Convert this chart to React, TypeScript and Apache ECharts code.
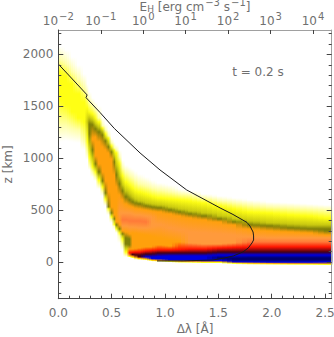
import React, { useEffect, useRef } from "react";
import * as echarts from "echarts";

const FONT = "DejaVu Sans";
const TEXT = "#707070";

const waveTickLabels = [0, 0.5, 1, 1.5, 2, 2.5];
const waveMinorTicks = [0.1, 0.2, 0.3, 0.4, 0.6, 0.7, 0.8, 0.9, 1.1, 1.2, 1.3, 1.4, 1.6, 1.7, 1.8, 1.9, 2.1, 2.2, 2.3, 2.4];
const heightTickLabels = [0, 500, 1000, 1500, 2000];
const heightMinorTicks = [-300, -200, -100, 100, 200, 300, 400, 600, 700, 800, 900, 1100, 1200, 1300, 1400, 1600, 1700, 1800, 1900, 2100, 2200];

// Black curve: x = wavelength offset, y = height (km)
const curveX = [0, 0.14, 0.27, 0.26, 0.39, 0.525, 0.766, 0.953, 1.203, 1.516, 1.637, 1.768, 1.796, 1.825, 1.83, 1.83, 1.815, 1.78, 1.73, 1.64, 1.56, 1.45, 1.17, 0.925];
const curveZ = [1908, 1754, 1610, 1584, 1442, 1287, 1051, 887, 694, 521, 458, 381, 347, 289, 251, 212, 183, 135, 96, 58, 39, 19, 10, 10];

// Colour levels of the intensity map
const levelColors = ["#ffffff", "#ffffa8", "#ffff14", "#c8c810", "#808008", "#ffa00c", "#ff9a3c", "#ff7a38", "#ff1400", "#480014", "#0000e0", "#000070"];

// Column edges of the intensity map, along the wavelength axis
const columnEdges = [0, 0.044, 0.1, 0.157, 0.213, 0.255, 0.283, 0.311, 0.339, 0.367, 0.396, 0.424, 0.452, 0.48, 0.508, 0.536, 0.564, 0.592, 0.62, 0.649, 0.677, 0.705, 0.733, 0.794, 0.85, 0.906, 1, 1.094, 1.187, 1.3, 1.441, 1.581, 1.722, 1.89, 2.078, 2.265, 2.434, 2.562];

// For each column: [height, level, height, level, ...] from top to bottom
const columnProfiles = [
  [2082,0,1947,1,1832,2,1562,2,1321,1,1157,0],
  [2044,0,1909,1,1793,2,1513,2,1321,1,1166,0],
  [1976,0,1832,1,1716,2,1446,2,1292,1,1157,0],
  [1899,0,1754,1,1620,2,1388,2,1272,1,1147,0],
  [1812,0,1677,1,1542,2,1350,2,1176,1,1080,0],
  [1716,0,1600,1,1485,2,1350,3,1157,2,1051,1,983,0],
  [1639,0,1542,1,1446,2,1388,3,1330,4,1234,4,1118,3,1012,2,935,1,887,0],
  [1581,0,1504,1,1427,2,1369,3,1321,4,1195,5,1176,5,1080,4,1003,3,916,2,868,1,819,0],
  [1542,0,1465,1,1388,2,1330,3,1282,4,1205,5,1022,5,945,4,906,3,868,2,819,1,781,0],
  [1504,0,1388,1,1350,2,1301,3,1253,4,1157,5,945,5,868,4,829,3,790,2,742,1,704,0],
  [1388,0,1311,1,1292,2,1263,3,1224,4,1109,5,868,5,781,4,752,3,723,2,675,1,636,0],
  [1330,0,1272,1,1234,2,1195,3,1166,4,1080,5,781,5,665,4,636,3,607,2,569,1,540,0],
  [1272,0,1215,1,1195,2,1147,3,1109,4,1051,5,675,5,530,4,521,3,511,2,482,1,453,0],
  [1195,0,1147,1,1118,2,1089,3,1060,4,993,5,530,5,472,4,453,3,434,2,405,1,376,0],
  [1157,0,1099,1,1080,2,1022,3,964,4,839,5,453,5,415,4,395,3,357,2,347,1,308,0],
  [1128,0,1080,1,1051,2,935,3,839,4,723,5,386,5,357,4,337,3,318,2,299,1,280,0],
  [1080,0,1012,1,954,2,829,3,752,4,646,5,463,6,357,5,318,4,299,3,280,2,251,1,183,0],
  [983,0,906,1,829,2,742,3,684,4,598,5,472,6,405,7,347,6,299,5,270,4,251,3,222,2,164,1,116,0],
  [935,0,858,1,771,2,684,3,627,4,559,5,472,6,405,7,347,6,289,5,231,4,173,4,135,3,96,2,67,1,48,0],
  [916,0,829,1,742,2,655,3,598,4,540,5,472,6,395,7,337,6,270,5,222,4,164,4,125,5,87,8,63,5,53,2,43,0],
  [897,0,810,1,713,2,627,3,578,4,530,5,463,6,395,7,337,6,280,5,125,5,92,8,72,9,53,5,43,2,34,0],
  [877,0,790,1,694,2,607,3,569,4,521,5,453,6,395,7,337,6,280,5,125,5,96,8,67,9,48,5,39,2,29,0],
  [848,0,752,1,675,2,588,3,559,4,511,5,453,6,395,7,328,6,270,5,135,5,96,8,67,9,48,9,36,5,29,2,19,0],
  [819,0,733,1,655,2,569,3,540,4,501,5,443,6,386,7,328,6,260,5,145,5,106,8,77,9,48,10,29,5,22,2,14,0],
  [790,0,713,1,636,2,559,3,530,4,492,5,434,6,337,6,251,5,145,5,111,8,77,9,48,10,34,10,19,5,13,2,7,0],
  [762,0,694,1,617,2,549,3,521,4,482,5,357,6,231,5,164,5,116,8,87,9,53,10,29,10,14,5,10,2,2,0],
  [742,0,675,1,607,2,530,3,501,4,463,5,328,6,212,5,154,5,116,8,87,9,58,10,19,10,10,5,5,2,-5,0],
  [704,0,655,1,598,2,511,3,482,4,443,5,308,6,193,5,120,8,87,9,58,10,19,10,7,5,0,2,-10,0],
  [684,0,646,1,588,2,492,3,463,4,424,5,289,6,183,6,125,8,87,9,58,10,19,10,3,5,-2,2,-10,0],
  [655,0,617,1,569,2,472,3,443,4,405,5,280,6,173,6,125,8,87,9,58,10,14,10,0,5,-5,2,-14,0],
  [636,0,588,1,540,2,443,3,415,4,386,5,270,6,173,6,135,8,96,9,67,10,39,11,14,10,0,5,-5,2,-14,0],
  [617,0,569,1,511,2,415,3,386,4,357,5,260,6,183,6,140,8,96,9,67,10,34,11,19,11,0,10,-10,5,-14,2,-24,0],
  [598,0,549,1,482,2,395,3,357,4,318,5,241,6,193,7,145,8,96,9,67,10,39,11,19,11,0,10,-13,5,-17,2,-27,0],
  [578,0,530,1,472,2,376,3,347,4,299,5,231,6,193,7,145,8,96,9,67,10,39,11,19,11,-3,10,-14,5,-19,2,-29,0],
  [569,0,521,1,453,2,366,3,328,4,289,5,231,6,193,7,145,8,96,9,67,10,39,11,19,11,-3,10,-16,5,-21,2,-31,0],
  [559,0,511,1,443,2,357,3,318,4,280,5,231,6,193,7,145,8,96,9,67,10,39,11,19,11,-3,10,-17,5,-22,2,-32,0],
  [549,0,501,1,424,2,357,3,318,4,299,4,260,5,231,6,193,7,145,8,96,9,67,10,39,11,19,11,0,10,-19,5,-24,2,-34,0],
];

const Z_MIN = -354;
const Z_MAX = 2236;
const AXIS_Z = 10;
const heatData = columnProfiles.map((_, i) => [columnEdges[i], columnEdges[i + 1], i]);
const curveData = curveX.map((x, i) => [x, curveZ[i]]);

// Three layers of the same columns, offset sideways by a third of a column and blended,
// so that the steps between neighbouring columns are softened like the reference's image.
function columnRenderer(shift: number, opacity: number) {
  return (params: any, api: any) => {
    const p = columnProfiles[api.value(2)];
    const [x0, yTop] = api.coord([api.value(0), Z_MAX]);
    const [x1, yBottom] = api.coord([api.value(1), Z_MIN]);
    const colorStops: { offset: number; color: string }[] = [{ offset: 0, color: "#ffffff" }];
    for (let k = 0; k < p.length; k += 2) {
      colorStops.push({ offset: (Z_MAX - p[k]) / (Z_MAX - Z_MIN), color: levelColors[p[k + 1]] });
    }
    colorStops.push({ offset: 1, color: "#ffffff" });
    const w = x1 - x0;
    const left = Math.round(x0 + shift * w);
    const right = shift < 0 ? Math.round(x1) : Math.round(x1 + shift * w);
    return {
      type: "rect",
      shape: { x: left, y: yTop, width: right - left, height: yBottom - yTop },
      style: { fill: new echarts.graphic.LinearGradient(0, 0, 0, 1, colorStops), opacity },
    };
  };
}

const heatLayer = (shift: number, opacity: number, z: number) => ({
  type: "custom", xAxisIndex: 0, yAxisIndex: 0, data: heatData, renderItem: columnRenderer(shift, opacity),
  encode: { x: [0, 1] }, clip: true, silent: true, z,
});

const textStyle = { fontFamily: FONT, color: TEXT, fontSize: 12 };
const labelRich = {
  b: { fontFamily: FONT, color: TEXT, fontSize: 12, lineHeight: 16, verticalAlign: "bottom" },
  s: { fontFamily: FONT, color: TEXT, fontSize: 10, lineHeight: 16, verticalAlign: "top", padding: [0, 0, 5, 1] },
  d: { fontFamily: FONT, color: TEXT, fontSize: 9, lineHeight: 16, verticalAlign: "bottom", padding: [5, 0, 0, 0] },
};

const hiddenLabel = { show: false };

function App() {
  const ref = useRef<HTMLDivElement>(null);
  useEffect(() => {
    const chart = echarts.init(ref.current!, null, { renderer: "svg" });
    const darkLine = { lineStyle: { color: "#444444", width: 1 } };
    const paleLine = { lineStyle: { color: "#a0a0a0", width: 1 } };
    chart.setOption({
      animation: false,
      grid: { left: 58.3, top: 30, width: 273.4, height: 268.7, containLabel: false, outerBoundsMode: "none" },
      xAxis: [
        {
          type: "value", position: "bottom", min: 0, max: 2.562, z: AXIS_Z,
          splitLine: { show: false }, axisLine: { show: true, onZero: false, ...darkLine },
          axisTick: { show: true, inside: true, length: 5, customValues: waveTickLabels, ...darkLine },
          axisLabel: { ...textStyle, margin: 8, customValues: waveTickLabels, formatter: (v: number) => v.toFixed(1) },
          name: "Δλ [Å]", nameLocation: "middle", nameGap: 24, nameMoveOverlap: false, nameTextStyle: { ...textStyle, fontSize: 12 },
        },
        {
          type: "log", logBase: 10, position: "top", min: 0.01, max: 27542, splitNumber: 7, z: AXIS_Z,
          splitLine: { show: false }, axisLine: { show: true, onZero: false, ...paleLine },
          axisTick: { show: true, inside: true, length: 4, ...darkLine },
          axisLabel: {
            margin: 3, showMinLabel: true, showMaxLabel: false, hideOverlap: false, rich: labelRich, ...textStyle,
            formatter: (v: number) => {
              const e = Math.log10(v);
              if (Math.abs(e - Math.round(e)) > 1e-6) return "";
              const n = Math.round(e);
              return `{b|10}{s|${n < 0 ? "−" + -n : n}}`;
            },
          },
          name: "{b|E}{d|H}{b| [erg cm}{s|−3}{b| s}{s|−1}{b|]}", nameLocation: "middle", nameGap: 17, nameMoveOverlap: false,
          nameTextStyle: { ...textStyle, rich: labelRich },
        },
        {
          type: "value", position: "bottom", min: 0, max: 2.562, splitLine: { show: false }, z: AXIS_Z,
          axisLine: { show: false, onZero: false }, axisLabel: hiddenLabel,
          axisTick: { show: true, inside: true, length: 3, customValues: waveMinorTicks, ...darkLine },
        },
      ],
      yAxis: [
        {
          type: "value", position: "left", min: Z_MIN, max: Z_MAX, z: AXIS_Z,
          splitLine: { show: false }, axisLine: { show: true, onZero: false, ...darkLine },
          axisTick: { show: true, inside: true, length: 5, customValues: heightTickLabels, ...darkLine },
          axisLabel: { ...textStyle, margin: 5, customValues: heightTickLabels, formatter: (v: number) => String(v) },
          name: "z [km]", nameLocation: "middle", nameGap: 44, nameMoveOverlap: false, nameTextStyle: textStyle,
        },
        {
          type: "value", position: "left", min: Z_MIN, max: Z_MAX, splitLine: { show: false }, z: AXIS_Z,
          axisLine: { show: false, onZero: false }, axisLabel: hiddenLabel,
          axisTick: { show: true, inside: true, length: 3, customValues: heightMinorTicks, ...darkLine },
        },
        {
          type: "value", position: "right", min: Z_MIN, max: Z_MAX, splitLine: { show: false }, z: AXIS_Z,
          axisLine: { show: true, onZero: false, ...paleLine }, axisLabel: hiddenLabel,
          axisTick: { show: true, inside: true, length: 5, customValues: heightTickLabels, ...darkLine },
        },
        {
          type: "value", position: "right", min: Z_MIN, max: Z_MAX, splitLine: { show: false }, z: AXIS_Z,
          axisLine: { show: false, onZero: false }, axisLabel: hiddenLabel,
          axisTick: { show: true, inside: true, length: 3, customValues: heightMinorTicks, ...darkLine },
        },
      ],
      series: [
        heatLayer(-1 / 3, 1, 1),
        heatLayer(0, 1 / 2, 2),
        heatLayer(1 / 3, 1 / 3, 3),
        {
          type: "line", xAxisIndex: 0, yAxisIndex: 0, data: curveData, symbol: "none", silent: true, z: 5,
          lineStyle: { color: "#1a1a1a", width: 1 },
        },
      ],
      graphic: [
        {
          type: "text", x: 258, y: 72, z: 10,
          style: { text: "t = 0.2 s", fontFamily: FONT, fontSize: 12, fill: TEXT, textAlign: "center", textVerticalAlign: "middle" },
        },
      ],
    });
    return () => chart.dispose();
  }, []);
  return <div ref={ref} style={{ position: "fixed", left: 0, top: 0, width: 334, height: 337, background: "#ffffff" }} />;
}

export default App;
